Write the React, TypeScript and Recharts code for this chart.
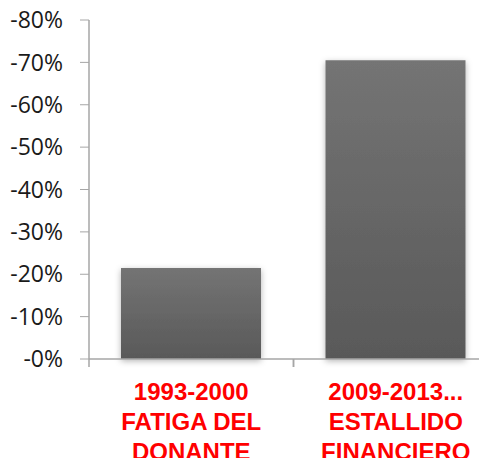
import { BarChart, Bar, XAxis, YAxis } from 'recharts';

const categories = ['1993-2000\nFATIGA DEL\nDONANTE', '2009-2013...\nESTALLIDO\nFINANCIERO'];
const declines = [-21.5, -70.5];
const yTicks = [-80, -70, -60, -50, -40, -30, -20, -10, 0];

const data = categories.map((name, i) => ({ name, value: declines[i] }));

// category label plus the Excel-style tick mark on the category boundary
function CategoryTick({ x, y, payload }: any) {
    const lines = String(payload.value).split('\n');
    const half = payload.offset || 0;
    return (
        <g>
            <line x1={x - half} x2={x - half} y1={y} y2={y + 8} stroke="#a6a6a6" strokeWidth={1.5} />
            <line x1={x + half} x2={x + half} y1={y} y2={y + 8} stroke="#a6a6a6" strokeWidth={1.5} />
            <text
                x={x}
                y={y}
                textAnchor="middle"
                fill="#ff0000"
                fontFamily="'Liberation Sans', sans-serif"
                fontWeight="bold"
                fontSize={24}
            >
                {lines.map((line, i) => (
                    <tspan key={i} x={x} y={y + 41 + i * 30}>{line}</tspan>
                ))}
            </text>
        </g>
    );
}

export default function App() {
    return (
        <div style={{ margin: -8, width: 487, height: 466, overflow: 'hidden', background: '#fff' }}>
            <BarChart width={498} height={466} data={data} margin={{ top: 20, right: 0, bottom: 0, left: 0 }}>
                <defs>
                    <linearGradient id="barFill" x1="0" y1="0" x2="0" y2="1">
                        <stop offset="0%" stopColor="#747474" />
                        <stop offset="100%" stopColor="#595959" />
                    </linearGradient>
                    <filter id="barShadow" x="-20%" y="-20%" width="140%" height="140%">
                        <feDropShadow dx="0" dy="2" stdDeviation="3" floodColor="#000" floodOpacity="0.3" />
                    </filter>
                </defs>
                <XAxis
                    dataKey="name"
                    height={107}
                    tickSize={0}
                    tickMargin={0}
                    tickLine={false}
                    axisLine={{ stroke: '#a6a6a6', strokeWidth: 1.5 }}
                    tick={<CategoryTick />}
                    interval={0}
                />
                <YAxis
                    width={89}
                    domain={[-80, 0]}
                    ticks={yTicks}
                    reversed
                    tickSize={9}
                    tickMargin={17}
                    tickFormatter={(v: number) => `-${Math.abs(v)}%`}
                    axisLine={{ stroke: '#a6a6a6', strokeWidth: 1.5 }}
                    tickLine={{ stroke: '#a6a6a6' }}
                    tick={{ fill: '#1a1a1a', fontSize: 23, fontFamily: "'Open Sans', sans-serif" }}
                />
                <Bar
                    dataKey="value"
                    barSize={140}
                    fill="url(#barFill)"
                    filter="url(#barShadow)"
                    isAnimationActive={false}
                />
            </BarChart>
        </div>
    );
}
